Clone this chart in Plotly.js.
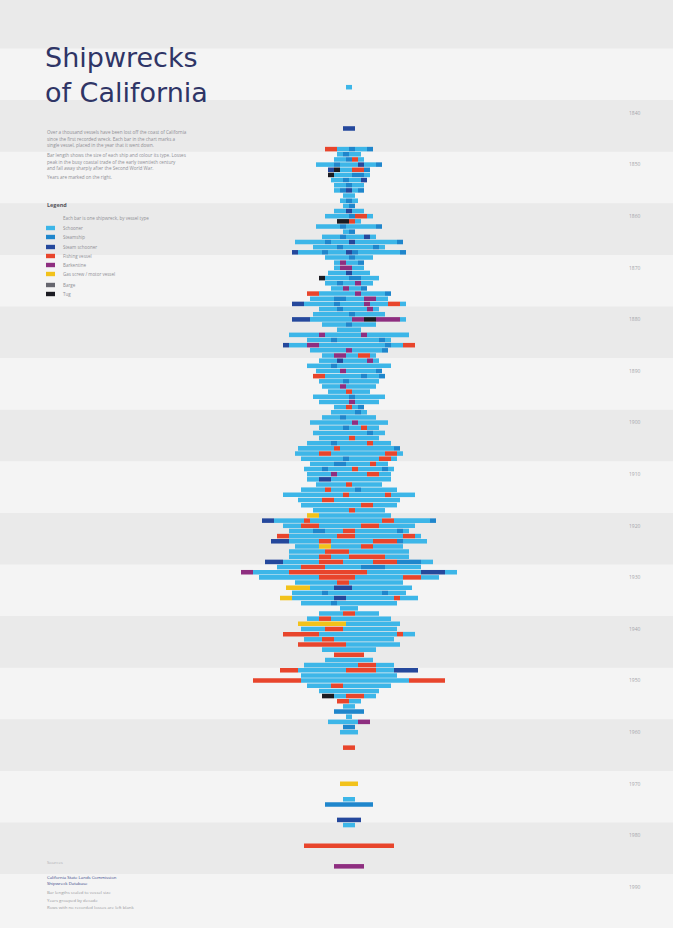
<!DOCTYPE html>
<html><head><meta charset="utf-8">
<script src="https://cdn.plot.ly/plotly-3.0.1.min.js"></script>
<style>html,body{margin:0;padding:0;background:#f4f4f4;}#chart{width:673px;height:928px;}</style>
</head><body><div id="chart"></div>
<script>
// vessel types: code, name, colour
const typeCodes  = ['a','b','c','r','p','y','g','k'];
const typeNames  = ['Schooner','Steamship','Steam schooner','Fishing vessel','Barkentine','Gas screw / motor vessel','Barge','Tug'];
const typeColors = ['#3db6e8','#1f86cc','#25489c','#e8452c','#8e2e80','#f2c21b','#66666e','#1b1b22'];

// one row per year; each letter is one unit of wreck length, coloured by vessel type
const years = [1835,1843,1847,1848,1849,1850,1851,1852,1853,1854,1855,1856,1857,1858,1859,
 1860,1861,1862,1863,1864,1865,1866,1867,1868,1869,1870,1871,1872,1873,1874,1875,1876,1877,1878,1879,
 1880,1881,1882,1883,1884,1885,1886,1887,1888,1889,1890,1891,1892,1893,1894,1895,1896,1897,1898,1899,
 1900,1901,1902,1903,1904,1905,1906,1907,1908,1909,1910,1911,1912,1913,1914,1915,1916,1917,1918,1919,
 1920,1921,1922,1923,1924,1925,1926,1927,1928,1929,1930,1931,1932,1933,1934,1935,1936,1937,1938,1939,
 1940,1941,1942,1943,1944,1945,1946,1947,1948,1949,1950,1951,1952,1953,1954,1955,1956,1957,1958,1959,
 1960,1963,1970,1973,1974,1977,1978,1982,1986];
const wrecks = ['a','cc','rraabaab','abaa','aabra','aaabaaacaab','ckaarrb','kaaabba','aabaac','aabaa','abcab','aa','aba','ab','aacaa',
 'aaaabrra','kkra','aaaabaaaaab','ab','aaabaaaca','aaaaabaaacaaaaaaab','aaaabaaaaaba','caaaabaaacbaaaaaaab','aaaabaaa','apaab','appaa','aaacaaa','kaaaabbaaa','aabaapaa','aapaab','rraaaaaapaaaab','aaaabbaaappaa','ccaaaaabaaaapaaarra','aaabaaaapa','aaaaaabaaaaa',
 'cccaaaaaaappkkppppa','aaaabaaaa','aaaa','aaaaapaaaaaapaaaaaaa','aaaabaaaaaaaba','caaappaaaaaaaaaaabaarr','aaaaaapaaaaab','aappaarra','aaacaaaapa','aaaabaaaaaaaaa','aaaapaaaaab','rraaaaaabaab','aaaabaaaaa','aaapaaaaa','aaaraaa','aaaaaabaaaaa','aaaaapaaaa','aarab','aaaaba','aaabaaaaa',
 'aaaaaaapaaaaa','aaaabaaraa','aaaaaaaaabaa','aaaaaraaaa','aaaabaaaaaraaa','aaaaaaraaaaaaaaab','aaaarraaaaaaaaarra','aaaaaaabaaaaarra','aaaabbaaaaraa','aaabaaaaraaaaba','aaaapaaaaarraa','aaccaaaaaaaaaa','aaaaaraaaaa','aaaaraaaabaaaaaa','aaaaaaaaaaraaaaaaraaaa','aaaarraaaaaaaaaaa','aaaaaaaaaarraaaa','aaaaaaraaaaa','yyaaaaaaaaaaaa','ccaaaaaraaaaaaaaaaaarraaaaaab',
 'aaarrraaaaaaarrraaaaaa','aaaabbaaarraaaaaaaba','rraaaaaaaarrraaaaaaaarra','cccaaaaarraaaaaaarrrrbaaaa','aaaayyaaaaarraaaaa','aaaaaarrrraaaaaaaaaa','aaaaarraaarrrrrraaaa','cccaaaaaarrrraaaaarrrrbbbbaa','aaaarrrraaaaaabbbbaaaaaa','ppaaaaaarrrrrrrrrrrrraaaaaaaaaccccaa','aaaaaaaaaarrrrrraaaaaaaarrraaa','aaaaaaarraaaaaaaaa','yyyyaaaacccaaaaaaaaaa','aaaaabaaaaaaaaabaaa','yyaaaaaaaccaaaaaaaaraaa','aaaaabaaaaaaaaaa','aaa','aaaarraaaa','aarraaaaaaaaaa','yyyyyyyyaaaaaaaaa',
 'aaaarrraaaaaaaaa','rrrrrraaaaaaaaaaaaaraa','aaarraaaaaaaaaa','rrrrrrrraaaaaaaaa','aaaaaaaaa','rrrrr','aaaaaaaa','aaaaaaaaarrraaa','rrraaaaaaaarrrrraaacccc','aaaaaaaaaaaaaaaa','rrrrrrrraaaaaaaaaaaaaaaaaarrrrrr','aaaarraaaaaaaa','aaaaaaaaaa','kkaarrraa','rraa','aa','bbbbb','a','aaaaapp','bb',
 'aaa','rr','yyy','aa','bbbbbbbb','cccc','aa','rrrrrrrrrrrrrrr','ppppp'];

const decadeTicks = [1840,1850,1860,1870,1880,1890,1900,1910,1920,1930,1940,1950,1960,1970,1980,1990];

// build one bar trace per vessel type, runs of a type drawn as one bar, rows centred on 0
const traces = typeCodes.map((c,i)=>({type:'bar',orientation:'h',name:typeNames[i],x:[],y:[],base:[],
  width:0.88,marker:{color:typeColors[i],line:{width:0}},showlegend:false,hoverinfo:'skip'}));
years.forEach((yr,r)=>{
  const s = wrecks[r], n = s.length;
  let i = 0;
  while(i<n){
    let j=i; while(j<n && s[j]===s[i]) j++;
    const t = typeCodes.indexOf(s[i]);
    traces[t].x.push(j-i); traces[t].y.push(yr); traces[t].base.push(-n/2+i);
    i=j;
  }
});

const W=673,H=928,R=45,PW=W-R;
const px=v=>v/PW, py=v=>1-v/H;
const shapes=[];
[1820].concat(decadeTicks).filter(d=>d%20===0).forEach(d=>{
  shapes.push({type:'rect',xref:'paper',yref:'y',x0:-0.01,x1:1.1,y0:d-2.5,y1:d+7.5,fillcolor:'#eaeaea',line:{width:0},layer:'below'});
});
const ann=[];
const F='Open Sans';
ann.push({text:'Shipwrecks<br>of California',x:px(43),y:py(40),xref:'paper',yref:'paper',xanchor:'left',yanchor:'top',align:'left',showarrow:false,font:{family:'DejaVu Sans',size:27,color:'#2f3566'}});
const para=[
 ['Over a thousand vessels have been lost off the coast of California','since the first recorded wreck. Each bar in the chart marks a','single vessel, placed in the year that it went down.',132],
 ['Bar length shows the size of each ship and colour its type. Losses','peak in the busy coastal trade of the early twentieth century','and fall away sharply after the Second World War.',155],
 ['Years are marked on the right.',177]
];
para.forEach(p=>{
  const lines=p.slice(0,-1), y0=p[p.length-1];
  lines.forEach((l,k)=>ann.push({text:l,x:px(45),y:py(y0+k*6.6),xref:'paper',yref:'paper',xanchor:'left',yanchor:'middle',showarrow:false,font:{family:F,size:4.6,color:'#8f8f95'}}));
});
ann.push({text:'<b>Legend</b>',x:px(45),y:py(205),xref:'paper',yref:'paper',xanchor:'left',yanchor:'middle',showarrow:false,font:{family:F,size:5.5,color:'#55555c'}});
ann.push({text:'Each bar is one shipwreck, by vessel type',x:px(61),y:py(218),xref:'paper',yref:'paper',xanchor:'left',yanchor:'middle',showarrow:false,font:{family:F,size:4.5,color:'#8f8f95'}});
const legY=[228,237,247,256,265,274,285,294];
typeNames.forEach((nm,i)=>{
  shapes.push({type:'rect',xref:'paper',yref:'paper',x0:px(46),x1:px(55),y0:py(legY[i]+2.2),y1:py(legY[i]-2.2),fillcolor:typeColors[i],line:{width:0}});
  ann.push({text:nm,x:px(61),y:py(legY[i]),xref:'paper',yref:'paper',xanchor:'left',yanchor:'middle',showarrow:false,font:{family:F,size:4.5,color:'#8f8f95'}});
});
const foot=[['Sources',862,'#b0b0b5'],['California State Lands Commission',877,'#3a4a8a'],['Shipwreck Database',883,'#3a4a8a'],['Bar lengths scaled to vessel size',892,'#9a9aa0'],['Years grouped by decade',900,'#9a9aa0'],['Rows with no recorded losses are left blank',907,'#9a9aa0']];
foot.forEach(f=>ann.push({text:f[0],x:px(45),y:py(f[1]),xref:'paper',yref:'paper',xanchor:'left',yanchor:'middle',showarrow:false,font:{family:F,size:4.3,color:f[2]}}));

const layout={width:W,height:H,margin:{l:0,r:R,t:0,b:0},paper_bgcolor:'#f4f4f4',plot_bgcolor:'rgba(0,0,0,0)',
  barmode:'overlay',showlegend:false,
  xaxis:{range:[-349/6,(PW-349)/6],visible:false,fixedrange:true},
  yaxis:{range:[1997.95,1818.1],side:'right',tickvals:decadeTicks,ticktext:decadeTicks.map(String),
    tickfont:{family:F,size:5,color:'#a5a5aa'},showgrid:false,zeroline:false,showline:false,ticks:'',fixedrange:true},
  shapes:shapes,annotations:ann};
Plotly.newPlot('chart',traces,layout,{displayModeBar:false,staticPlot:true});
</script></body></html>
